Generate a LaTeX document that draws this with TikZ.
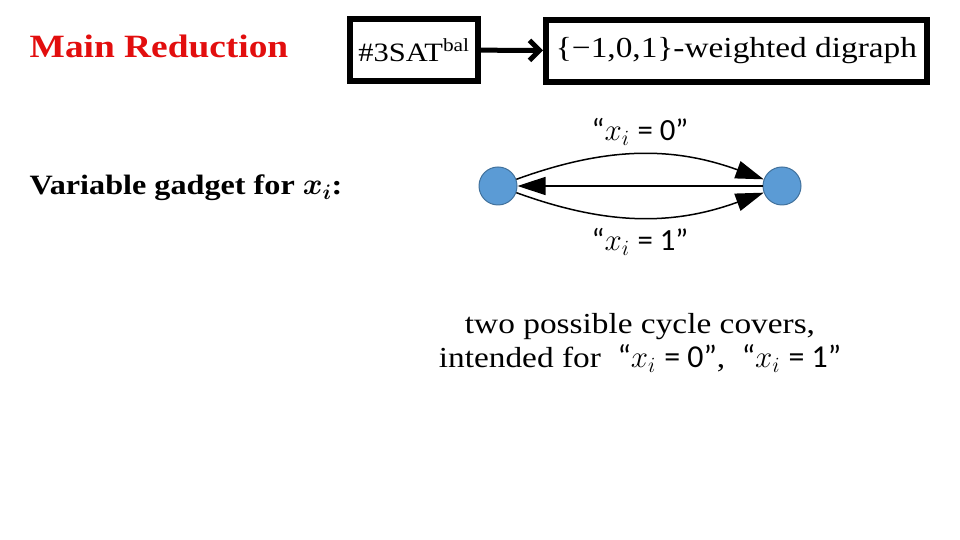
\RequirePackage{fix-cm}
\documentclass[tikz,border=0pt]{standalone}
\usepackage{fontspec}
\setmainfont{Liberation Serif}[FakeStretch=1.15]
\newfontfamily\calibri{Carlito}[Scale=1.1]
\usepackage{bm}
\usetikzlibrary{arrows.meta, positioning}
\definecolor{red1}{RGB}{226, 14, 14}
\definecolor{blue1}{RGB}{91, 155, 213}
\definecolor{blue2}{RGB}{65, 113, 156}
\newcommand{\xvar}{{\fontsize{31}{31}\selectfont$x_i$}}

\tikzset{
  box/.style={draw, line width=6pt, inner sep=0pt, minimum height=62pt},
  vertex/.style={circle, draw=blue2, fill=blue1, line width=1pt, minimum size=38pt, inner sep=0pt},
  edge/.style={line width=1.5pt, -{Triangle[length=28pt, width=18pt]}},
  caption/.style={font=\fontsize{29}{34}\selectfont}
}

\begin{document}
\begin{tikzpicture}[x=1pt, y=1pt]
  \useasboundingbox (0,0) rectangle (960,540);

  % header
  \node[text=red1, font=\fontsize{32.5}{40}\selectfont\bfseries] (title) at (159,494) {Main Reduction};
  \node[box, minimum width=128pt, font=\fontsize{26.5}{30}\selectfont] (sat) at (414,490) {\#3SAT\textsuperscript{bal}};
  \node[box, minimum width=381pt, caption] (graph) at (736.5,489) {\{−1,0,1\}-weighted digraph};
  \draw[line width=5pt, -{Straight Barb[length=10pt, width=20pt]}] (sat) -- (graph);

  % variable gadget
  \node[anchor=west, font=\fontsize{28}{34}\selectfont\bfseries] (gadget) at (26,352) {Variable gadget for {\fontsize{30}{30}\selectfont$\bm{x_i}$}:};
  \node[vertex] (left) at (498,354) {};
  \node[vertex] (right) at (782,354) {};
  \draw[edge] (left.20) to[out=20, in=160] (right.160);
  \draw[edge] (right.west) -- (left.east);
  \draw[edge] (left.-20) to[out=-20, in=-160] (right.-160);
  \node[font=\fontsize{28}{32}\selectfont] (zero) at (640,408) {{\calibri “}\xvar{} {\calibri = 0”}};
  \node[font=\fontsize{28}{32}\selectfont] (one) at (640,298) {{\calibri “}\xvar{} {\calibri = 1”}};

  \node[caption, align=center] (covers) at (640,197) {two possible cycle covers,\\
    intended for\ \ {\calibri “}\xvar{} {\calibri = 0”},\ \ {\calibri “}\xvar{} {\calibri = 1”}};
\end{tikzpicture}
\end{document}
